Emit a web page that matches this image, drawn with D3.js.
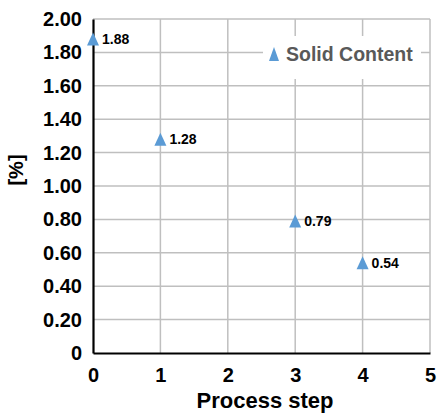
<!DOCTYPE html>
<html><head><meta charset="utf-8">
<script src="https://cdn.jsdelivr.net/npm/d3@7"></script>
<style>body{margin:0;background:#fff}svg{display:block}text{font-family:Arial,"Liberation Sans",sans-serif;font-weight:bold}</style>
</head><body><svg id="c" width="440" height="414"></svg>
<script>
const steps = [0, 1, 3, 4];
const solidContent = [1.88, 1.28, 0.79, 0.54];
const valueLabels = ["1.88", "1.28", "0.79", "0.54"];
const xTicks = [0, 1, 2, 3, 4, 5];
const yTicks = [0, 0.2, 0.4, 0.6, 0.8, 1.0, 1.2, 1.4, 1.6, 1.8, 2.0];
const yTickLabels = ["0", "0.20", "0.40", "0.60", "0.80", "1.00", "1.20", "1.40", "1.60", "1.80", "2.00"];
const seriesName = "Solid Content";

const svg = d3.select("#c");
const x = d3.scaleLinear().domain([0, 5]).range([93, 430]);
const y = d3.scaleLinear().domain([0, 2]).range([353, 19]);
const grid = "#bfbfbf";
const blue = "#5b9bd5";
const FONT = "Arial, 'Liberation Sans', sans-serif";

// custom triangle symbol (width w, height h centered on bbox)
const tri = (w, h) => ({ draw(ctx) { ctx.moveTo(0, -h / 2); ctx.lineTo(w / 2, h / 2); ctx.lineTo(-w / 2, h / 2); ctx.closePath(); } });

// gridlines
svg.append("g").selectAll("line").data(yTicks.slice(1)).join("line")
  .attr("x1", x(0)).attr("x2", x(5)).attr("y1", d => y(d)).attr("y2", d => y(d))
  .attr("stroke", grid).attr("stroke-width", 1.5);
svg.append("g").selectAll("line").data(xTicks.slice(1)).join("line")
  .attr("x1", d => x(d)).attr("x2", d => x(d)).attr("y1", y(0)).attr("y2", y(2))
  .attr("stroke", grid).attr("stroke-width", 1.5);

// legend box (covers gridlines)
const lg = svg.append("g");
lg.append("rect").attr("x", 263).attr("y", 36).attr("width", 158).attr("height", 43).attr("fill", "#fff");
lg.append("path").attr("d", d3.symbol(tri(10, 14))()).attr("transform", "translate(274,54)").attr("fill", blue);
lg.append("text").attr("x", 286).attr("y", 61).attr("font-size", 19.5).attr("fill", "#595959").text(seriesName);

// axes
const yAxis = d3.axisLeft(y).tickValues(yTicks).tickFormat((d, i) => yTickLabels[i]).tickSize(0).tickPadding(11);
const gy = svg.append("g").attr("transform", `translate(${x(0)},0)`).call(yAxis);
gy.select(".domain").attr("stroke", "#000").attr("stroke-width", 2.2);
gy.selectAll("text").attr("font-size", 20).attr("fill", "#000").attr("font-family", FONT).attr("font-weight", "bold");

const xAxis = d3.axisBottom(x).tickValues(xTicks).tickFormat(d3.format("d")).tickSize(0).tickPadding(15);
const gx = svg.append("g").attr("transform", `translate(0,${y(0)})`).call(xAxis);
gx.select(".domain").attr("stroke", "#000").attr("stroke-width", 2.2);
gx.selectAll("text").attr("font-size", 20).attr("fill", "#000").attr("font-family", FONT).attr("font-weight", "bold");

// axis titles
svg.append("text").attr("x", 265).attr("y", 408).attr("text-anchor", "middle")
  .attr("font-size", 22).attr("fill", "#000").text("Process step");
svg.append("text").attr("transform", "translate(23,170) rotate(-90)").attr("text-anchor", "middle")
  .attr("font-size", 20).attr("fill", "#000").text("[%]");

// points
const pts = svg.append("g");
pts.selectAll("path").data(steps).join("path")
  .attr("d", d3.symbol(tri(12, 13))())
  .attr("transform", (d, i) => `translate(${x(d)},${y(solidContent[i])})`)
  .attr("fill", blue);
pts.selectAll("text").data(steps).join("text")
  .attr("x", d => x(d) + 9).attr("y", (d, i) => y(solidContent[i]) + 5)
  .attr("font-size", 14).attr("fill", "#000").text((d, i) => valueLabels[i]);
</script></body></html>
